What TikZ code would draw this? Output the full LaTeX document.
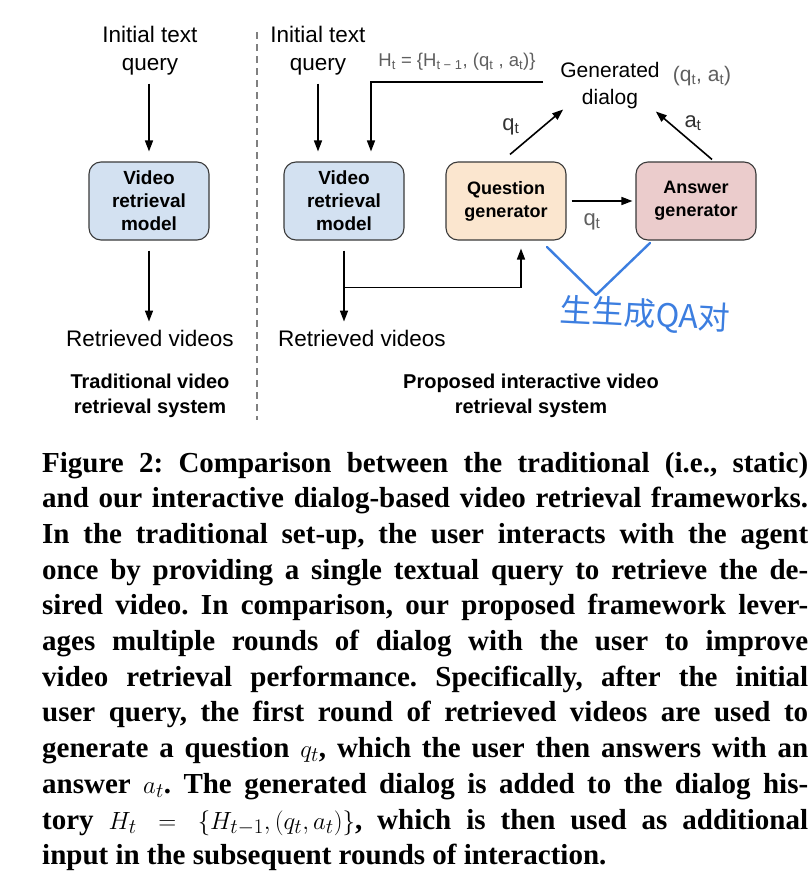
\documentclass[tikz,border=0pt]{standalone}
\usepackage{fontspec}
\setmainfont{Liberation Serif}
\newfontfamily\arialf{Liberation Sans}
\newfontfamily\cjkf{Noto Sans CJK SC}
\usetikzlibrary{arrows.meta,calc}
\definecolor{bluebox}{HTML}{D3E1F1}
\definecolor{peach}{HTML}{FBE6CF}
\definecolor{pinkbox}{HTML}{EBCCCC}
\definecolor{hand}{HTML}{3C7EE0}
\definecolor{labgray}{HTML}{5F5F5F}
\definecolor{boxline}{HTML}{3A3A3A}
\newcommand{\sbt}[1]{\textsubscript{#1}}
\frenchspacing
\begin{document}
\begin{tikzpicture}[x=1pt,y=-1pt,
  box/.style={draw=boxline, line width=1.1pt, rounded corners=12pt, minimum width=120pt,
    minimum height=78pt, align=center, inner sep=2pt,
    font=\arialf\bfseries\fontsize{19}{23}\selectfont},
  txt/.style={align=center, inner sep=0pt, font=\arialf\fontsize{22.5}{28}\selectfont},
  systxt/.style={align=center, inner sep=0pt, font=\arialf\bfseries\fontsize{20}{25}\selectfont},
  lab/.style={inner sep=0pt, text=labgray, font=\arialf\fontsize{22}{24}\selectfont},
  arr/.style={-{Triangle[length=11pt,width=8pt]}, line width=1.6pt},
  ln/.style={line width=1.6pt}]
\useasboundingbox (0,0) rectangle (810,894);
\fill[white] (0,0) rectangle (810,894);

% left part
\node[txt] (iq1) at (150,51) {Initial text\\query};
\node[box, fill=bluebox] (vrm1) at (149,201) {Video\\retrieval\\model};
\node[txt] (rv1) at (150,338) {Retrieved videos};
\node[systxt] (trad) at (150,396) {Traditional video\\retrieval system};
\draw[arr, shorten <=8pt, shorten >=10pt] (vrm1.north |- iq1.south) -- (vrm1.north);
\draw[arr, shorten <=10pt, shorten >=8pt] (vrm1.south) -- (vrm1.south |- rv1.north);

% divider
\coordinate (dtop) at (257,32);
\coordinate (dbot) at (257,420);
\draw[gray, line width=1.2pt, dash pattern=on 7pt off 5pt] (dtop) -- (dbot);

% right part
\node[txt] (iq2) at (318,51) {Initial text\\query};
\node[box, fill=bluebox] (vrm2) at (344,201) {Video\\retrieval\\model};
\node[box, fill=peach, font=\arialf\bfseries\fontsize{18}{23}\selectfont] (qg) at (506,201) {Question\\generator};
\node[box, fill=pinkbox, font=\arialf\bfseries\fontsize{18}{23}\selectfont] (ag) at (696,201) {Answer\\generator};
\node[txt, font=\arialf\fontsize{21}{27}\selectfont] (gd) at (610,86) {Generated\\dialog};
\node[txt] (rv2) at (362,338) {Retrieved videos};
\node[systxt] (prop) at (531,396) {Proposed interactive video\\retrieval system};

\node[inner sep=0pt, text=labgray, font=\arialf\fontsize{18.5}{20}\selectfont] (hist) at (457,62)
  {H\sbt{t} = \{H\sbt{t − 1}, (q\sbt{t} , a\sbt{t})\}};
\node[inner sep=0pt, text=labgray, font=\arialf\fontsize{21}{22}\selectfont] (qa) at (702,76)
  {(q\sbt{t}, a\sbt{t})};

\coordinate (fbs) at (543,82);
\draw[arr, shorten >=10pt] (fbs) -| ([xshift=27pt]vrm2.north);
\draw[arr, shorten <=8pt] (iq2.south) -- ([yshift=10pt]iq2.south |- vrm2.north);

\draw[arr] ($(qg.north)+(4,-7)$) -- ($(gd.south west)+(3,0)$);
\draw[arr] ($(ag.north)+(16,-2)$) -- ($(gd.south east)+(-4,2)$);
\node[lab, text=black!80] (lq1) at (511,127) {q\sbt{t}};
\node[lab, text=black!80] (la1) at (693,123) {a\sbt{t}};

\draw[arr, shorten <=5pt, shorten >=3pt] (qg.east) -- (ag.west);
\node[lab] (lq2) at (592,222) {q\sbt{t}};

\draw[arr, shorten <=10pt, shorten >=8pt] (vrm2.south) -- (vrm2.south |- rv2.north);
\coordinate (br) at ($(vrm2.south)+(0,47)$);
\draw[arr, shorten >=8pt] (br) -| ([xshift=15pt]qg.south);

% handwritten annotation
\draw[hand, line width=2.4pt, line cap=round, line join=round] (547,247) -- (596,295) -- (650,243);
\node[inner sep=0pt, text=hand, font=\cjkf\fontsize{32}{32}\selectfont, rotate=-3] (note) at (645,315) {生生成QA对};

% caption
\node[anchor=base west, text width=766pt, align=justify, inner sep=0pt,
  font=\bfseries\fontsize{29}{35.7}\selectfont] (cap) at (42,472) {%
Figure 2: Comparison between the traditional (i.e., static)\linebreak
and our interactive dialog-based video retrieval frameworks.\linebreak
In the traditional set-up, the user interacts with the agent\linebreak
once by providing a single textual query to retrieve the de-\linebreak
sired video. In comparison, our proposed framework lever-\linebreak
ages multiple rounds of dialog with the user to improve\linebreak
video retrieval performance. Specifically, after the initial\linebreak
user query, the first round of retrieved videos are used to\linebreak
generate a question $q_t$, which the user then answers with an\linebreak
answer $a_t$. The generated dialog is added to the dialog his-\linebreak
tory $H_t = \{H_{t-1}, (q_t, a_t)\}$, which is then used as additional\linebreak
input in the subsequent rounds of interaction.};
\end{tikzpicture}
\end{document}
